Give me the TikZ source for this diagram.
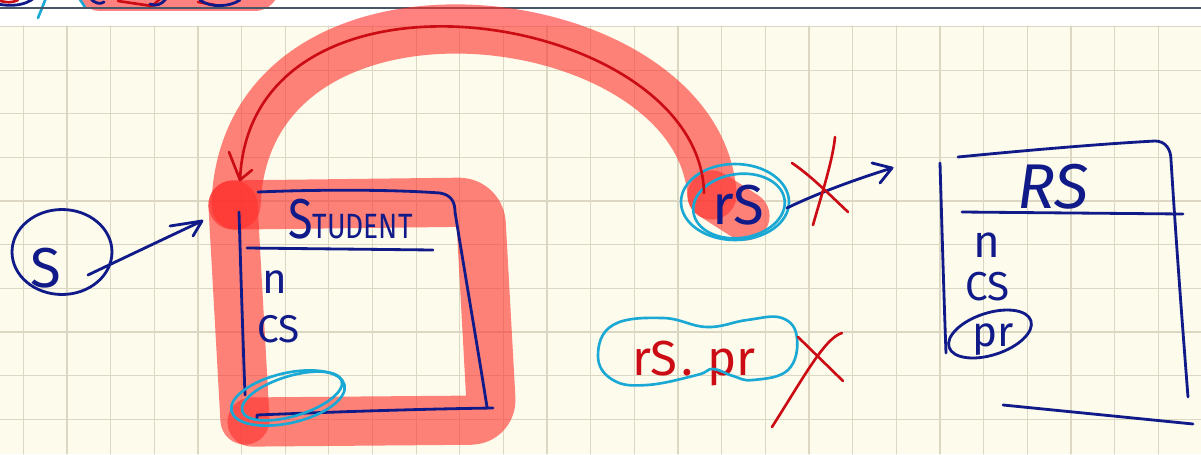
\documentclass[tikz,border=0pt]{standalone}
\usepackage{fontspec}
\newfontfamily\hand{Fira Sans}
\usetikzlibrary{shapes.geometric}
\definecolor{paper}{RGB}{253,251,236}
\definecolor{gridc}{RGB}{220,215,194}
\definecolor{ink}{RGB}{16,26,136}
\definecolor{pen}{RGB}{204,12,20}
\definecolor{aqua}{RGB}{26,168,212}
\definecolor{marker}{RGB}{255,48,44}
\definecolor{rulec}{RGB}{72,86,102}
\newcommand{\penfs}[1]{\fontsize{#1}{#1}\selectfont}
\begin{document}
\begin{tikzpicture}[x=0.02cm,y=-0.02cm,line cap=round,line join=round,
  inkline/.style={draw=ink,line width=1.6pt},
  penline/.style={draw=pen,line width=1.5pt},
  aqualine/.style={draw=aqua,line width=1.5pt},
  marker stroke/.style={draw=marker,draw opacity=0.6,line width=28pt},
  handtext/.style={inner sep=0pt,outer sep=0pt,font=\hand,text=ink}]
\useasboundingbox (0,0) rectangle (1201,454);
\clip (0,0) rectangle (1201,454);

% paper and grid
\fill[white] (0,0) rectangle (1201,26);
\fill[paper] (0,26) rectangle (1201,454);
\foreach \i in {0,...,26}
  \draw[gridc,line width=0.7pt] ({23.3+43.65*\i},26) -- ({23.3+43.65*\i},454);
\foreach \j in {0,...,9}
  \draw[gridc,line width=0.7pt] (0,{26.5+43.65*\j}) -- (1201,{26.5+43.65*\j});

% end of the previous page
\draw[marker stroke] (100,-14) -- (255,-14);
\draw[aqualine] (46,-2) -- (38,18);
\draw[aqualine] (79,-2) -- (85,7);
\draw[inkline] (-2,4) .. controls (12,7) and (26,5) .. (34,-2);
\draw[penline] (-2,0) .. controls (6,3) and (12,3) .. (18,0);
\draw[inkline] (90,-2) .. controls (94,3) and (100,5) .. (104,2);
\draw[penline] (118,1) -- (152,6) -- (160,-1);
\draw[inkline] (150,4) .. controls (156,7) and (162,4) .. (166,-1);
\draw[penline] (198,2) -- (215,5);
\draw[inkline] (200,0) .. controls (210,8) and (230,7) .. (240,0);
\draw[draw=rulec,line width=1.2pt] (0,8) -- (1201,8);

% highlighter strokes
\draw[marker stroke] (712,195) .. controls (700,0) and (245,-55) .. (236,205);
\draw[marker stroke] (712,195) -- (745,216);
\draw[marker stroke,rounded corners=12pt] (233,205) -- (480,202) -- (492,420) -- (252,422);
\draw[marker stroke] (233,205) -- (245,420);

% STUDENT table
\coordinate (stuTL) at (239,212);
\draw[inkline] (stuTL) .. controls (241,280) and (243,340) .. (245,395);
\draw[inkline] (258,192) .. controls (330,189) and (400,190) .. (440,193)
  .. controls (452,195) and (455,203) .. (455,212)
  .. controls (466,280) and (478,350) .. (487,407);
\draw[inkline] (493,408) .. controls (420,409) and (330,412) .. (257,415) -- (257,419);
\draw[inkline] (247,248) -- (433,250);
\node[handtext,anchor=base west] (stuName) at (288,238)
  {\scalebox{0.8}[1]{{\penfs{32}S}{\penfs{20}TUDENT}}};
\node[handtext,anchor=base west] (stuN) at (262,293) {\penfs{24}n};
\node[handtext,anchor=base west] (stuCS) at (257,342) {\penfs{22}CS};
\draw[aqualine,rotate around={13:(288,398)}] (288,398) ellipse [x radius=58,y radius=25];
\draw[aqualine,rotate around={17:(292,396)}] (292,396) ellipse [x radius=52,y radius=20];

% S and its pointer
\node[ellipse,draw=ink,line width=1.6pt,minimum width=2cm,minimum height=1.7cm,inner sep=0pt]
  (sRing) at (62,252) {};
\node[handtext] (sLabel) at (46,268) {\penfs{32}S};
\coordinate (sTail) at (88,275);
\coordinate (sTip) at (202,221);
\draw[inkline] (sTail) .. controls (130,255) and (170,236) .. (sTip);
\draw[inkline] (sTip) ++(-32,5) -- (sTip) -- ++(-9,15);

% rS
\node[handtext,anchor=base west] (rsVar) at (712,224) {\penfs{32}rS};
\draw[aqualine] (735,202) ellipse [x radius=54,y radius=38];
\draw[aqualine,rotate around={8:(739,206)}] (739,206) ellipse [x radius=46,y radius=32];

% rS refers to the student object
\coordinate (arcStart) at (704,193);
\coordinate (arcTip) at (240,180);
\draw[penline] (arcStart) .. controls (700,10) and (250,-60) .. (arcTip);
\draw[penline] (arcTip) ++(-11,-28) -- (arcTip) -- ++(12,-10);

% crossed-out pointer to RS
\coordinate (rsOut) at (787,208);
\coordinate (rsTip) at (892,168);
\draw[inkline] (rsOut) .. controls (820,192) and (860,178) .. (rsTip);
\draw[inkline] (rsTip) ++(-20,-5) -- (rsTip) -- ++(-12,15);
\draw[penline] (792,163) .. controls (810,175) and (830,195) .. (848,212);
\draw[penline] (835,137) .. controls (833,160) and (820,200) .. (813,225);

% rS.pr
\node[handtext,text=pen,anchor=base west] (rsPr) at (632,375) {\penfs{28}rS\kern2pt.\kern8pt pr};
\draw[aqualine] plot[smooth cycle,tension=0.7] coordinates
  {(598,356) (613,325) (663,318) (707,327) (747,320) (782,318) (797,338)
   (788,370) (753,380) (733,376) (713,369) (697,375) (647,385) (613,380)};
\draw[penline] (798,337) -- (843,381);
\draw[penline] (842,333) .. controls (825,338) and (805,375) .. (772,427);

% RS table
\draw[inkline] (940,163) .. controls (942,230) and (944,300) .. (946,353);
\draw[inkline] (958,157) .. controls (1030,150) and (1100,144) .. (1155,141)
  .. controls (1166,141) and (1171,150) .. (1171,160)
  .. controls (1176,240) and (1182,320) .. (1188,397);
\draw[inkline] (962,212) -- (1183,214);
\draw[inkline] (1003,405) -- (1193,424);
\node[handtext,anchor=base] (rsName) at (1053,208) {\penfs{36}\itshape RS};
\node[handtext,anchor=base west] (rsN) at (973,257) {\penfs{26}n};
\node[handtext,anchor=base west] (rsCS) at (965,300) {\penfs{23}CS};
\node[handtext,anchor=base west] (rsPrField) at (972,346) {\penfs{24}pr};
\draw[inkline,rotate around={18:(990,334)}] (990,334) ellipse [x radius=43,y radius=21];
\end{tikzpicture}
\end{document}
